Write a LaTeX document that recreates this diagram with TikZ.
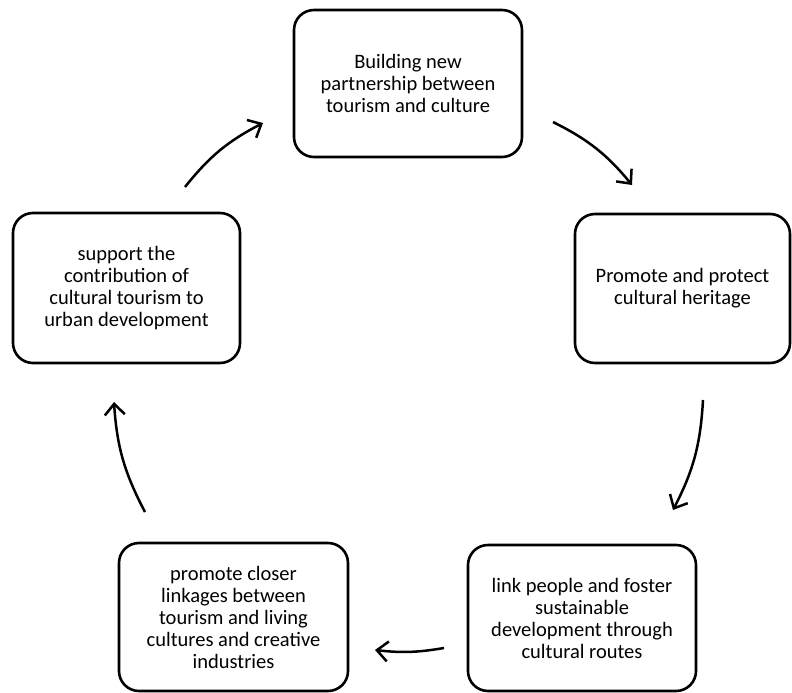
\documentclass[tikz,border=0pt]{standalone}
\usepackage{fontspec}
\setmainfont{Carlito}
\usetikzlibrary{arrows.meta}
\begin{document}
\begin{tikzpicture}[x=1pt,y=-1pt,
  box/.style={draw=black, line width=2.6pt, rounded corners=20pt, align=center,
    font=\fontsize{20.5}{22}\selectfont, inner sep=0pt},
  flow/.style={line width=2.5pt, -{Straight Barb[length=11pt,width=20pt,line width=2.5pt]}}]
\useasboundingbox (0,0) rectangle (792,693);
\node[box, minimum width=228pt, minimum height=147pt] (top) at (408,83.5)
  {Building new\\partnership between\\tourism and culture};
\node[box, minimum width=215pt, minimum height=149pt] (right) at (682.5,288.5)
  {Promote and protect\\cultural heritage};
\node[box, minimum width=228pt, minimum height=146pt] (br) at (582,618)
  {link people and foster\\sustainable\\development through\\cultural routes};
\node[box, minimum width=229pt, minimum height=148pt] (bl) at (233.5,617)
  {promote closer\\linkages between\\tourism and living\\cultures and creative\\industries};
\node[box, minimum width=227pt, minimum height=150pt] (left) at (126.5,288)
  {support the\\contribution of\\cultural tourism to\\urban development};
\coordinate (a1s) at (185,187); \coordinate (a1e) at (263,123);
\coordinate (a2s) at (553,122); \coordinate (a2e) at (632,185);
\coordinate (a3s) at (703,400); \coordinate (a3e) at (673,510);
\coordinate (a4s) at (444,648); \coordinate (a4e) at (375,650);
\coordinate (a5s) at (145,512); \coordinate (a5e) at (114,402);
\draw[flow] (a1s) to[bend left=12] (a1e);
\draw[flow] (a2s) to[bend left=12] (a2e);
\draw[flow] (a3s) to[bend left=12] (a3e);
\draw[flow] (a4s) to[bend left=8] (a4e);
\draw[flow] (a5s) to[bend left=12] (a5e);
\end{tikzpicture}
\end{document}
